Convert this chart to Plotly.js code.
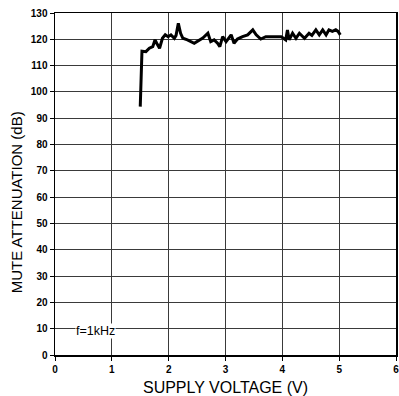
<!DOCTYPE html>
<html>
<head>
<meta charset="utf-8">
<script src="https://cdn.plot.ly/plotly-3.0.1.min.js"></script>
<style>
  html, body { margin: 0; padding: 0; background: #fff; }
  #chart { width: 399px; height: 396px; }
</style>
</head>
<body>
<div id="chart"></div>
<script>
// Mute attenuation vs. supply voltage at f = 1kHz
const supplyVoltage = [1.50, 1.52, 1.53, 1.60, 1.66, 1.72, 1.76, 1.79, 1.84, 1.89, 1.94, 1.99, 2.04, 2.10, 2.13, 2.17, 2.21, 2.25, 2.33, 2.45, 2.54, 2.60, 2.69, 2.74, 2.80, 2.86, 2.90, 2.95, 3.01, 3.10, 3.15, 3.21, 3.30, 3.39, 3.48, 3.54, 3.62, 3.71, 3.86, 3.98, 4.06, 4.09, 4.12, 4.18, 4.24, 4.30, 4.39, 4.47, 4.52, 4.59, 4.65, 4.71, 4.77, 4.82, 4.88, 4.94, 4.98, 5.02];
const muteAttenuation = [94.4, 108, 115.5, 115.3, 116.6, 117.2, 119.8, 118.5, 116.6, 120.4, 121.7, 121, 121.7, 120.4, 121.5, 126.1, 122.3, 120.4, 119.8, 118.5, 119.8, 120.5, 122.3, 119.1, 119.8, 118.5, 117.2, 121, 119.1, 121.7, 118.5, 120.1, 121, 121.7, 123.6, 121.7, 120.1, 121, 121, 121, 119.8, 123.5, 119.8, 122.3, 120.4, 122.3, 120.4, 122.3, 121.5, 123.6, 121.7, 123.6, 121.7, 123.6, 123, 123.6, 123, 121.7];

const xTicks = [0, 1, 2, 3, 4, 5, 6];
const yTicks = [0, 10, 20, 30, 40, 50, 60, 70, 80, 90, 100, 110, 120, 130];

const tickFont = { family: 'Arial, "Liberation Sans", sans-serif', size: 10, color: '#000', weight: 'bold' };
const titleFont = { family: 'Arial, "Liberation Sans", sans-serif', size: 15.5, color: '#000' };

const trace = {
  x: supplyVoltage,
  y: muteAttenuation,
  type: 'scatter',
  mode: 'lines',
  line: { color: '#000', width: 3 },
  hoverinfo: 'skip'
};

const axisCommon = {
  showline: true,
  linecolor: '#000',
  linewidth: 1.5,
  mirror: true,
  ticks: 'outside',
  ticklen: 4,
  tickwidth: 1,
  tickcolor: '#000',
  showgrid: true,
  gridcolor: '#3a3a3a',
  gridwidth: 1,
  zeroline: false,
  tickfont: tickFont,
  ticklabeloverflow: 'allow',
  fixedrange: true
};

const layout = {
  width: 399,
  height: 396,
  margin: { l: 55, r: 3, t: 13, b: 41 },
  paper_bgcolor: '#fff',
  plot_bgcolor: '#fff',
  showlegend: false,
  xaxis: Object.assign({}, axisCommon, {
    range: [0, 6],
    tickvals: xTicks,
    ticktext: xTicks.map(String),
    title: { text: 'SUPPLY VOLTAGE (V)', font: Object.assign({}, titleFont, { size: 16 }), standoff: 10 }
  }),
  yaxis: Object.assign({}, axisCommon, {
    range: [0, 130],
    tickvals: yTicks,
    ticktext: yTicks.map(String)
  }),
  annotations: [
    {
      text: 'MUTE ATTENUATION (dB)',
      xref: 'paper', yref: 'paper',
      x: -0.114, y: 0.447,
      xanchor: 'center', yanchor: 'middle',
      textangle: -90,
      showarrow: false,
      font: Object.assign({}, titleFont, { size: 15 })
    },
    {
      text: 'f=1kHz',
      xref: 'x', yref: 'y',
      x: 0.72, y: 9.1,
      xanchor: 'center', yanchor: 'middle',
      showarrow: false,
      bgcolor: '#fff',
      borderpad: 0,
      font: { family: 'Arial, "Liberation Sans", sans-serif', size: 12.5, color: '#000' }
    }
  ]
};

Plotly.newPlot('chart', [trace], layout, { staticPlot: true, displayModeBar: false });
</script>
</body>
</html>
